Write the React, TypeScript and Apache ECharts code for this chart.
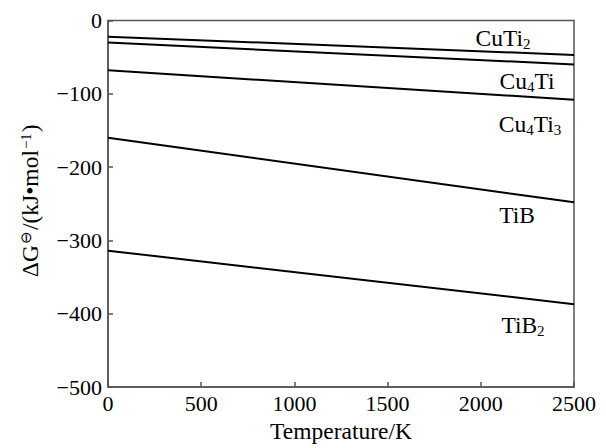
import React, { useEffect, useRef } from "react";
import * as echarts from "echarts";

const temps = [0, 2500];
const cuTi2 = [-22, -47];
const cu4Ti = [-30, -60];
const cu4Ti3 = [-68, -108];
const tiB = [-160, -248];
const tiB2 = [-314, -387];
const xTicks = { min: 0, max: 2500, interval: 500 };
const yTicks = { min: -500, max: 0, interval: 100 };

const FONT = "'Liberation Serif', 'Times New Roman', serif";
const FS = 22;
const LS = 23.5;

export default function App() {
  const ref = useRef<HTMLDivElement>(null);
  useEffect(() => {
    if (!ref.current) return;
    const chart = echarts.init(ref.current, null, { renderer: "svg" });
    const mk = (vals: number[]) => ({
      type: "line",
      data: temps.map((t, i) => [t, vals[i]]),
      showSymbol: false,
      lineStyle: { color: "#000", width: 2 },
      silent: true,
    });
    const rich = {
      b: { fontFamily: FONT, fontSize: LS, color: "#000" },
      s: { fontFamily: FONT, fontSize: 15, color: "#000", verticalAlign: "bottom", padding: [12, 0, 0, 0] },
    };
    const txt = (x: number, y: number, t: string) => ({
      type: "text",
      x,
      y,
      style: { text: t, rich, fontFamily: FONT, fontSize: LS, fill: "#000", align: "center", verticalAlign: "middle" },
    });
    chart.setOption({
      animation: false,
      backgroundColor: "#fff",
      grid: { left: 108, right: 32, top: 20.5, bottom: 55, show: true, borderColor: "#555", borderWidth: 1.5 },
      xAxis: {
        type: "value",
        ...xTicks,
        name: "Temperature/K",
        nameLocation: "middle",
        nameGap: 32,
        nameTextStyle: { fontFamily: FONT, fontSize: LS, color: "#000" },
        axisLine: { show: true, onZero: false, lineStyle: { color: "#555", width: 1.5 } },
        axisTick: { show: true, inside: true, length: 5, lineStyle: { color: "#555", width: 1.5 } },
        axisLabel: { fontFamily: FONT, fontSize: FS, color: "#000", margin: 5, formatter: (v: number) => String(v) },
        splitLine: { show: false },
      },
      yAxis: {
        type: "value",
        ...yTicks,
        name: "{b|ΔG}{sup|⊖}{b|/(kJ•mol}{sup|−1}{b|)}",
        nameLocation: "middle",
        nameRotate: 90,
        nameGap: 66,
        nameTextStyle: {
          fontFamily: FONT,
          fontSize: LS,
          color: "#000",
          padding: [0, 0, 0, 6],
          rich: {
            b: { fontFamily: FONT, fontSize: LS, color: "#000" },
            sup: { fontFamily: FONT, fontSize: 15, color: "#000", verticalAlign: "top", padding: [0, 1, 9, 1] },
          },
        },
        axisLine: { show: true, onZero: false, lineStyle: { color: "#555", width: 1.5 } },
        axisTick: { show: true, inside: true, length: 5, lineStyle: { color: "#555", width: 1.5 } },
        axisLabel: {
          fontFamily: FONT,
          fontSize: FS,
          color: "#000",
          margin: 6,
          formatter: (v: number) => String(v).replace("-", "−"),
        },
        splitLine: { show: false },
      },
      series: [mk(cuTi2), mk(cu4Ti), mk(cu4Ti3), mk(tiB), mk(tiB2)],
      graphic: [
        txt(503, 38, "{b|CuTi}{s|2}"),
        txt(527, 81, "{b|Cu}{s|4}{b|Ti}"),
        txt(530, 124, "{b|Cu}{s|4}{b|Ti}{s|3}"),
        txt(517, 215, "{b|TiB}"),
        txt(523, 325, "{b|TiB}{s|2}"),
      ],
    });
    return () => chart.dispose();
  }, []);
  return <div ref={ref} style={{ position: "fixed", left: 0, top: 0, width: 606, height: 448 }} />;
}
